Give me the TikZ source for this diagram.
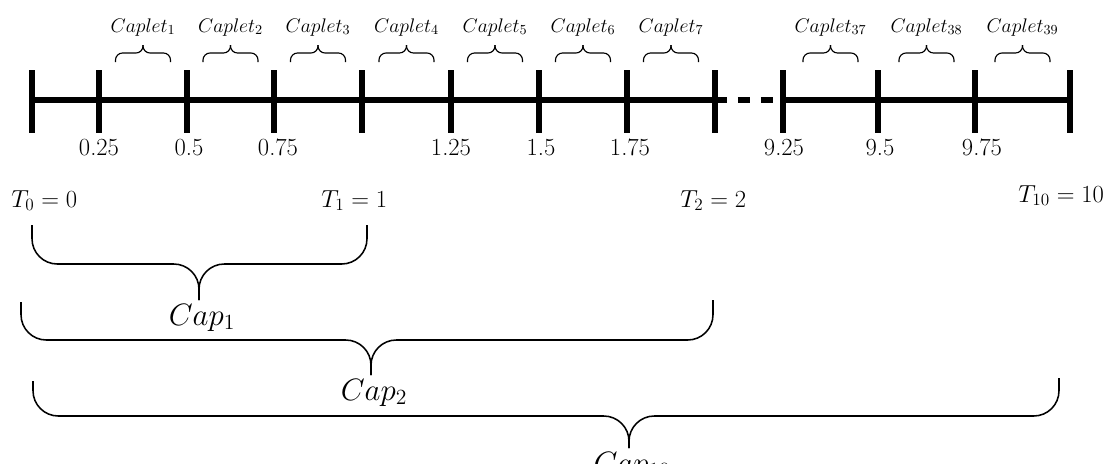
\RequirePackage{fix-cm}
\documentclass[tikz,border=0pt]{standalone}
\usepackage{amsmath}
\usetikzlibrary{positioning}

\begin{document}
\begin{tikzpicture}[x=0.025cm, y=-0.025cm,
    timeline/.style={line width=4pt},
    tickmark/.style={line width=3.6pt},
    smallbrace/.style={line width=0.8pt, rounded corners=5pt},
    bigbrace/.style={line width=1.1pt, rounded corners=18pt},
    ticklbl/.style={anchor=base, inner sep=0pt, font=\fontsize{17.5}{20}\selectfont},
    capletlbl/.style={anchor=base, inner sep=0pt, font=\fontsize{14}{17}\selectfont},
    timelbl/.style={anchor=base west, inner sep=0pt, font=\fontsize{17.5}{20}\selectfont},
    caplbl/.style={anchor=base, inner sep=0pt, font=\fontsize{22}{26}\selectfont}]

  \useasboundingbox (0,0) rectangle (1112,463);

  % tick positions on the time axis
  \foreach \x [count=\i] in {32,99,187,274,362,451,539,627,715,783,878,975,1070}
    \coordinate (t\i) at (\x,100);

  % the axis, with a gap between 2 and 9
  \draw[timeline] (t1) -- (t9);
  \draw[timeline, dash pattern=on 8.5pt off 7.8pt] (t9) -- (t10);
  \draw[timeline] (t10) -- (t13);
  \foreach \i in {1,...,13}
    \draw[tickmark] (t\i) ++(0,-30) -- ++(0,63);

  % quarter labels
  \foreach \x/\lbl [count=\i] in {99/0.25, 189/0.5, 278/0.75, 451/1.25, 541/1.5,
                                  630/1.75, 784/9.25, 880/9.5, 982/9.75}
    \node[ticklbl] (q\i) at (\x,155) {\lbl};

  % caplets
  \foreach \m/\n in {143/1, 230.5/2, 318/3, 406.5/4, 495/5, 583/6, 671/7,
                     830.5/37, 926.5/38, 1022.5/39} {
    \draw[smallbrace] ({\m-27.5},62) |- (\m,53) -- (\m,45);
    \draw[smallbrace] ({\m+27.5},62) |- (\m,53) -- (\m,45);
    \node[capletlbl] (cl\n) at (\m,32) {$Caplet_{\n}$};
  }

  % reset dates
  \node[timelbl] (T0) at (11,207) {$T_0 = 0$};
  \node[timelbl] (T1) at (321,207) {$T_1 = 1$};
  \node[timelbl] (T2) at (680,207) {$T_2 = 2$};
  \node[timelbl] (T10) at (1018,202) {$T_{10} = 10$};

  % caps
  \foreach \n/\lx/\ly/\rx/\ry/\fy/\tx/\ty in {1/32/225/367/225/264/199/300,
                                              2/21/302/713/300/340/371/375,
                                              10/33/381/1059/378/416/629/448} {
    \draw[bigbrace] (\lx,\ly) |- (\tx,\fy) -- (\tx,\ty);
    \draw[bigbrace] (\rx,\ry) |- (\tx,\fy) -- (\tx,\ty);
    \node[caplbl] (cap\n) at ({\tx+3},{\ty+25}) {$Cap_{\n}$};
  }

\end{tikzpicture}
\end{document}
